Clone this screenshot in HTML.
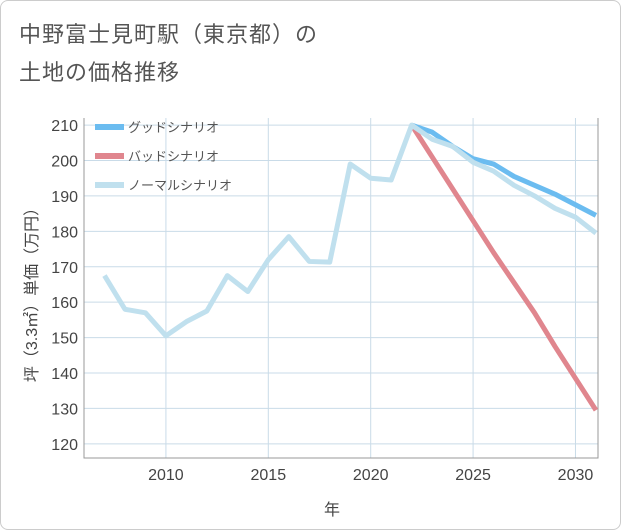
<!DOCTYPE html>
<html><head><meta charset="utf-8">
<style>
body{margin:0;background:#fff;font-family:"Liberation Sans","Noto Sans CJK JP",sans-serif;}
#wrap{position:relative;width:619px;height:528px;border:1px solid #ccc;border-radius:8px;overflow:hidden;background:#fff}
.t{position:absolute;left:18px;font-size:22px;color:#555;letter-spacing:1px}
</style></head><body>
<div id="wrap">
<div class="t" style="top:16px">中野富士見町駅（東京都）の</div>
<div class="t" style="top:54px">土地の価格推移</div>
<svg id="c" width="621" height="530" style="position:absolute;left:0;top:0"></svg>
</div>
<script>
const normalYears=[2007,2008,2009,2010,2011,2012,2013,2014,2015,2016,2017,2018,2019,2020,2021,2022,2023,2024,2025,2026,2027,2028,2029,2030,2031];
const normalVals=[167.5,158,157,150.5,154.5,157.5,167.5,163,172,178.5,171.5,171.3,199,195,194.5,210,206,204,199.5,197,193,190,186.5,184,179.5];
const futureYears=[2022,2023,2024,2025,2026,2027,2028,2029,2030,2031];
const goodVals=[210,208,204,200.5,199,195.5,193,190.5,187.5,184.5];
const badVals=[210,201,192,183,174,165.5,157,147.5,138.5,129.5];
const yTicks=[120,130,140,150,160,170,180,190,200,210];
const xTicks=[2010,2015,2020,2025,2030];
const L=83,R=597,T=117,B=457,x0=2006,x1=2031.1,y0=116,y1=212;
const X=v=>L+(v-x0)/(x1-x0)*(R-L), Y=v=>B-(v-y0)/(y1-y0)*(B-T);
const s=document.getElementById('c'),NS='http://www.w3.org/2000/svg';
function mk(t,a,p){const e=document.createElementNS(NS,t);for(const k in a)e.setAttribute(k,a[k]);(p||s).appendChild(e);return e;}
xTicks.forEach(y=>{const g=mk('line',{x1:X(y),x2:X(y),y1:T,y2:B,stroke:'#c9dbe8','stroke-width':1});
});
yTicks.forEach(v=>{const g=mk('line',{x1:L,x2:R,y1:Y(v),y2:Y(v),stroke:'#c9dbe8'});

const t=mk('text',{x:L-6,y:Y(v)+6,'text-anchor':'end','font-size':16,fill:'#444'});t.textContent=v;
});
xTicks.forEach(v=>{const t=mk('text',{x:X(v),y:479,'text-anchor':'middle','font-size':16,fill:'#444'});t.textContent=v;
});
const ax=mk('path',{d:`M${L},${T}V${B}H${R}V${T}`,fill:'none',stroke:'#999'});

function line(xs,vs,c,n){const p=mk('polyline',{points:xs.map((x,i)=>X(x)+','+Y(vs[i])).join(' '),fill:'none',stroke:c,'stroke-width':5,'stroke-linejoin':'round'});
}
line(futureYears,goodVals,'#6bbcf0','good-scenario-line');
line(futureYears,badVals,'#e0868e','bad-scenario-line');
line(normalYears,normalVals,'#c0e0ee','normal-scenario-line');
[['グッドシナリオ','#6bbcf0'],['バッドシナリオ','#e0868e'],['ノーマルシナリオ','#c0e0ee']].forEach((d,i)=>{
const y=126+i*29;const l=mk('line',{x1:94,x2:123,y1:y,y2:y,stroke:d[1],'stroke-width':6});

const t=mk('text',{x:127,y:y+5,'font-size':13,fill:'#555'});t.textContent=d[0];
});
const yt=mk('text',{transform:'translate(36,290) rotate(-90)','text-anchor':'middle','font-size':16,fill:'#444'});yt.textContent='坪（3.3㎡）単価（万円）';

const xt=mk('text',{x:331,y:514,'text-anchor':'middle','font-size':16,fill:'#444'});xt.textContent='年';

</script>
</body></html>
